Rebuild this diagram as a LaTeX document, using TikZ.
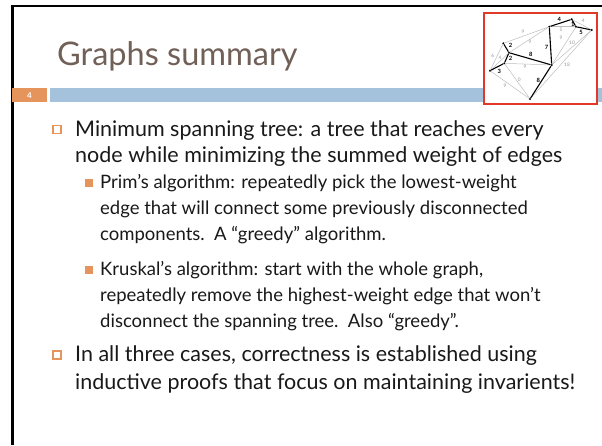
\documentclass[tikz,border=0pt]{standalone}
\usepackage{fontspec}
\setmainfont{Lato}
\definecolor{accent}{RGB}{229,148,92}
\definecolor{barblue}{RGB}{164,194,219}
\definecolor{titlecol}{RGB}{112,96,88}
\definecolor{boxred}{RGB}{226,56,40}
\definecolor{edgegray}{RGB}{190,190,190}
\definecolor{labgray}{RGB}{150,150,150}
\definecolor{bodytext}{RGB}{25,25,25}
\tikzset{
  maintext/.style={anchor=base west, inner sep=0pt, text=bodytext, font=\fontsize{21.5}{25}\selectfont},
  subtext/.style={anchor=base west, inner sep=0pt, text=bodytext, font=\fontsize{18.5}{22}\selectfont},
  mainbullet/.style={draw=accent, line width=1.1pt, minimum size=8pt, inner sep=0pt},
  subbullet/.style={fill=accent, draw=accent, minimum size=7pt, inner sep=0pt},
  gnode/.style={circle, fill=black, inner sep=0pt, minimum size=2.2pt},
  grayedge/.style={draw=edgegray, line width=0.5pt},
  treeedge/.style={draw=black, line width=1.1pt},
  glab/.style={text=labgray, font=\fontsize{4.8}{5}\selectfont, inner sep=0pt},
  tlab/.style={text=black, font=\bfseries\fontsize{5.8}{6}\selectfont, inner sep=0pt}
}
\begin{document}
\begin{tikzpicture}[x=1pt,y=-1pt]
\useasboundingbox (0,0) rectangle (602,445);
\fill[white] (0,0) rectangle (602,445);
% frame
\draw[line width=2.4pt, black] (12.5,445) -- (12.5,6.2) -- (602,6.2);
% bars
\fill[accent] (12,88) rectangle (47,102);
\node[text=white, font=\bfseries\fontsize{8}{9}\selectfont, inner sep=0pt] (num) at (29.5,95.5) {4};
\fill[barblue] (50,88) rectangle (602,102);
% title
\node[anchor=base west, inner sep=0pt, text=titlecol, font=\fontsize{32.5}{38}\selectfont] (title) at (57,65) {Graphs summary};
% thumbnail
\draw[boxred, fill=white, line width=1.1pt] (484,13) rectangle (597,104);
\node[gnode] (gA) at (503.3,43.3) {};
\node[gnode] (gB) at (509,52.7) {};
\node[gnode] (gC) at (504.3,63.3) {};
\node[gnode] (gD) at (490,70.7) {};
\node[gnode] (gE) at (530,99) {};
\node[gnode] (gF) at (551.7,65) {};
\node[gnode] (gG) at (549.3,26.7) {};
\node[gnode] (gH) at (571.7,19.3) {};
\node[gnode] (gI) at (576,26.7) {};
\node[gnode] (gJ) at (591.7,30) {};
\path[grayedge] (gA) -- (gG);
\path[grayedge] (gB) -- (gG);
\path[grayedge] (gD) -- (gA);
\path[grayedge] (gD) -- (gB);
\path[grayedge] (gC) -- (gF);
\path[grayedge] (gD) -- (gE);
\path[grayedge] (gC) -- (gE);
\path[grayedge] (gG) -- (gI);
\path[grayedge] (gF) -- (gI);
\path[grayedge] (gF) -- (gJ);
\path[grayedge] (gE) -- (gJ);
\path[grayedge] (gH) -- (gJ);
\path[treeedge] (gA) -- (gB);
\path[treeedge] (gB) -- (gC);
\path[treeedge] (gC) -- (gD);
\path[treeedge] (gB) -- (gF);
\path[treeedge] (gF) -- (gG);
\path[treeedge] (gF) -- (gE);
\path[treeedge] (gG) -- (gH);
\path[treeedge] (gH) -- (gI);
\path[treeedge] (gI) -- (gJ);
\node[glab] (l1) at (523,32) {9};
\node[glab] (l2) at (530,42) {9};
\node[glab] (l3) at (492.7,55.7) {6};
\node[glab] (l4) at (500,57.5) {4};
\node[glab] (l5) at (525,67) {9};
\node[glab] (l6) at (505,86) {9};
\node[glab] (l7) at (519.3,80) {0};
\node[glab] (l8) at (561,29.5) {5};
\node[glab] (l9) at (561,38) {9};
\node[glab] (l10) at (572,42.3) {10};
\node[glab] (l11) at (567,64.3) {18};
\node[glab] (l12) at (583.3,21) {4};
\node[tlab] (t1) at (510.5,45.5) {2};
\node[tlab] (t2) at (510.5,58) {2};
\node[tlab] (t3) at (499.3,71) {3};
\node[tlab] (t4) at (530.7,54.3) {8};
\node[tlab] (t5) at (546.5,47) {7};
\node[tlab] (t6) at (538.3,80) {8};
\node[tlab] (t7) at (559.3,19.3) {4};
\node[tlab] (t8) at (572.7,24.5) {1};
\node[tlab] (t9) at (581,32) {5};
% bullets and text
\node[mainbullet] (b1) at (57,129.5) {};
\node[maintext] (m1a) at (75,136) {Minimum spanning tree: a tree that reaches every};
\node[maintext] (m1b) at (75,162) {node while minimizing the summed weight of edges};
\node[subbullet] (s1) at (89,182.5) {};
\node[subtext] (p1) at (100,188.5) {Prim’s algorithm: repeatedly pick the lowest-weight};
\node[subtext] (p2) at (100,214) {edge that will connect some previously disconnected};
\node[subtext] (p3) at (100,240) {components.\ \ A “greedy” algorithm.};
\node[subbullet] (s2) at (89,269.5) {};
\node[subtext] (k1) at (100,275.5) {Kruskal’s algorithm: start with the whole graph,};
\node[subtext] (k2) at (100,301) {repeatedly remove the highest-weight edge that won’t};
\node[subtext] (k3) at (100,327) {disconnect the spanning tree.\ \ Also “greedy”.};
\node[mainbullet] (b2) at (57,355) {};
\node[maintext] (i1) at (75,361.5) {In all three cases, correctness is established using};
\node[maintext] (i2) at (75,389) {inductive proofs that focus on maintaining invarients!};
\end{tikzpicture}
\end{document}
